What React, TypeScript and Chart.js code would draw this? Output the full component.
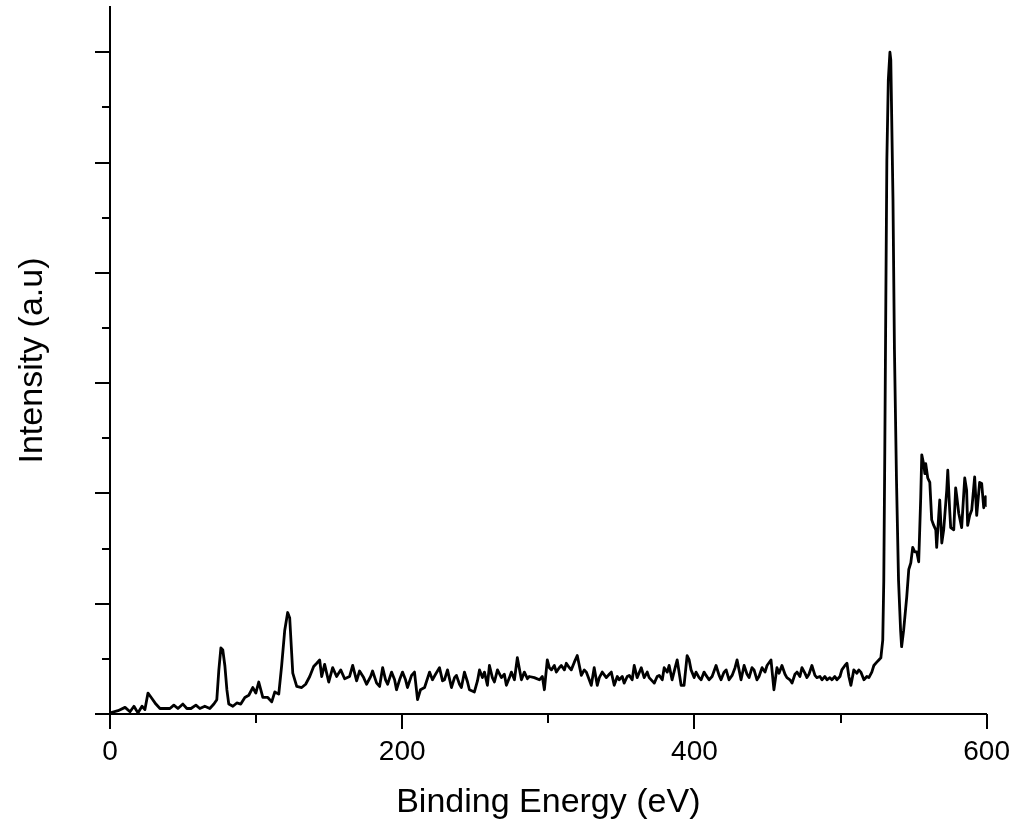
import React, { useEffect, useRef } from "react";
import { Chart, registerables } from "chart.js";

Chart.register(...registerables);

const energy = [
  0, 5.5, 10.3, 13.7, 16.4, 19.1, 21.9, 23.9, 26.0, 28.7,
  31.4, 34.2, 38.3, 41.0, 43.7, 46.5, 49.9, 52.6, 55.4, 58.8,
  61.5, 64.9, 68.3, 71.1, 73.1, 74.5, 75.9, 77.2, 78.6, 80.0,
  81.3, 84.1, 86.8, 89.5, 92.3, 95.0, 97.7, 99.8, 101.8, 104.6,
  108.0, 110.7, 112.8, 115.5, 117.5, 119.6, 121.6, 123.0, 125.1, 127.8,
  131.2, 133.9, 136.7, 139.4, 141.5, 143.5, 144.9, 146.9, 149.7, 152.4,
  155.1, 157.9, 160.6, 164.0, 166.1, 168.8, 170.8, 173.6, 175.6, 178.4,
  179.7, 182.5, 184.5, 186.6, 188.6, 190.0, 192.7, 194.8, 196.1, 198.2,
  200.2, 202.3, 203.6, 206.4, 208.4, 210.5, 212.5, 215.3, 218.7, 220.7,
  222.8, 225.5, 227.6, 228.9, 231.0, 233.7, 235.8, 237.1, 239.2, 240.5,
  242.6, 244.7, 246.0, 249.4, 251.5, 252.9, 254.9, 256.3, 258.3, 259.7,
  261.7, 263.1, 265.2, 267.9, 269.9, 271.3, 273.4, 274.7, 276.8, 278.8,
  281.6, 283.6, 285.7, 287.0, 290.4, 293.9, 295.9, 297.3, 299.3, 300.7,
  302.1, 304.1, 305.5, 307.5, 308.9, 311.0, 312.3, 314.4, 315.7, 317.8,
  319.8, 322.6, 324.6, 326.0, 328.0, 329.4, 331.4, 333.5, 334.9, 336.9,
  339.7, 341.7, 343.1, 345.1, 347.2, 348.5, 350.6, 351.9, 354.0, 355.4,
  357.4, 358.8, 360.8, 363.6, 365.6, 367.7, 369.0, 372.5, 374.5, 375.9,
  378.0, 379.3, 381.4, 382.7, 384.7, 386.8, 388.2, 390.9, 392.9, 395.0,
  396.4, 397.7, 399.8, 401.1, 403.2, 404.6, 406.6, 408.0, 410.0, 412.1,
  414.8, 416.9, 418.2, 420.3, 421.7, 423.7, 425.8, 427.8, 429.2, 431.9,
  434.0, 436.0, 437.4, 439.4, 440.8, 442.8, 444.2, 446.3, 448.3, 449.7,
  452.4, 454.4, 456.5, 457.9, 459.9, 462.0, 463.3, 465.4, 466.8, 468.8,
  470.2, 472.2, 473.6, 475.6, 477.0, 478.4, 480.4, 482.5, 483.8, 485.9,
  487.3, 489.3, 490.7, 492.7, 494.1, 496.1, 497.5, 499.6, 500.9, 503.0,
  504.4, 505.7, 507.1, 509.1, 511.2, 512.5, 513.9, 516.0, 518.0, 519.4,
  521.4, 522.8, 524.8, 526.2, 527.6, 528.9, 529.6, 530.3, 531.0, 531.7,
  532.7, 533.8, 534.4, 535.9, 536.9, 538.3, 539.7, 541.1, 541.8, 543.2,
  545.3, 546.7, 548.1, 549.4, 550.8, 552.2, 553.5, 554.2, 554.9, 555.6,
  557.0, 557.7, 558.3, 559.7, 561.1, 562.4, 563.8, 565.2, 565.8, 567.2,
  567.9, 569.3, 570.6, 571.3, 572.7, 573.4, 574.7, 575.4, 577.5, 578.8,
  579.5, 580.9, 582.9, 585.0, 586.3, 587.0, 588.4, 589.8, 591.8, 593.2,
  595.2, 596.6, 598.0, 599.3, 600.0,
];

const intensity = [
  0.01, 0.03, 0.06, 0.02, 0.07, 0.01, 0.07, 0.04, 0.19, 0.14,
  0.09, 0.05, 0.05, 0.05, 0.08, 0.05, 0.09, 0.05, 0.05, 0.08,
  0.05, 0.07, 0.05, 0.09, 0.13, 0.40, 0.60, 0.58, 0.44, 0.22,
  0.09, 0.07, 0.10, 0.09, 0.15, 0.17, 0.24, 0.19, 0.29, 0.15,
  0.15, 0.11, 0.20, 0.18, 0.44, 0.76, 0.92, 0.87, 0.37, 0.25,
  0.24, 0.27, 0.34, 0.43, 0.46, 0.49, 0.34, 0.45, 0.29, 0.42,
  0.34, 0.40, 0.32, 0.34, 0.44, 0.30, 0.39, 0.33, 0.27, 0.34,
  0.39, 0.28, 0.25, 0.42, 0.31, 0.27, 0.38, 0.31, 0.22, 0.31,
  0.38, 0.31, 0.24, 0.35, 0.38, 0.13, 0.22, 0.24, 0.38, 0.31,
  0.36, 0.42, 0.30, 0.31, 0.40, 0.24, 0.33, 0.35, 0.27, 0.24,
  0.38, 0.29, 0.22, 0.20, 0.30, 0.40, 0.33, 0.38, 0.26, 0.44,
  0.33, 0.29, 0.40, 0.33, 0.36, 0.26, 0.33, 0.38, 0.31, 0.51,
  0.31, 0.38, 0.32, 0.34, 0.33, 0.31, 0.34, 0.22, 0.49, 0.42,
  0.40, 0.44, 0.38, 0.42, 0.44, 0.40, 0.46, 0.42, 0.40, 0.47,
  0.53, 0.35, 0.40, 0.38, 0.31, 0.26, 0.42, 0.26, 0.33, 0.38,
  0.33, 0.36, 0.38, 0.26, 0.34, 0.31, 0.34, 0.28, 0.34, 0.35,
  0.31, 0.44, 0.33, 0.42, 0.33, 0.38, 0.33, 0.28, 0.34, 0.35,
  0.31, 0.42, 0.38, 0.44, 0.31, 0.42, 0.49, 0.26, 0.26, 0.53,
  0.49, 0.40, 0.33, 0.38, 0.33, 0.31, 0.38, 0.35, 0.31, 0.34,
  0.44, 0.35, 0.31, 0.38, 0.40, 0.31, 0.35, 0.42, 0.49, 0.31,
  0.44, 0.36, 0.33, 0.42, 0.40, 0.31, 0.34, 0.42, 0.38, 0.44,
  0.49, 0.22, 0.42, 0.37, 0.44, 0.36, 0.33, 0.31, 0.28, 0.36,
  0.38, 0.34, 0.42, 0.37, 0.33, 0.36, 0.44, 0.35, 0.33, 0.34,
  0.31, 0.34, 0.31, 0.33, 0.31, 0.34, 0.31, 0.34, 0.40, 0.44,
  0.46, 0.34, 0.26, 0.40, 0.37, 0.40, 0.38, 0.31, 0.34, 0.33,
  0.38, 0.44, 0.47, 0.49, 0.51, 0.67, 1.21, 2.39, 3.75, 5.02,
  5.75, 6.00, 5.93, 4.66, 3.30, 2.12, 1.21, 0.76, 0.61, 0.76,
  1.06, 1.31, 1.37, 1.51, 1.47, 1.47, 1.38, 1.67, 1.97, 2.35,
  2.26, 2.18, 2.27, 2.14, 2.10, 1.76, 1.71, 1.67, 1.51, 1.80,
  1.94, 1.55, 1.67, 1.79, 2.03, 2.21, 1.85, 1.69, 1.67, 2.05,
  1.98, 1.82, 1.69, 2.14, 2.03, 1.71, 1.80, 1.85, 2.15, 1.80,
  2.10, 2.09, 1.87, 1.97, 1.89,
];

const xMajorTicks = [0, 200, 400, 600];
const xMinorTicks = [100, 300, 500];
const yMajorTicks = [0, 1, 2, 3, 4, 5, 6];
const yMinorTicks = [0.5, 1.5, 2.5, 3.5, 4.5, 5.5];

const xTitle = "Binding Energy (eV)";
const yTitle = "Intensity (a.u)";
const FONT = "'Liberation Sans', Arial, sans-serif";

const tickPlugin = {
  id: "customTicks",
  afterDraw(chart: any) {
    const { ctx, scales } = chart;
    const x = scales.x;
    const y = scales.y;
    ctx.save();
    ctx.strokeStyle = "#000";
    ctx.lineWidth = 2;
    const axisY = x.top;
    const axisX = y.right;
    const drawX = (v: number, len: number) => {
      const px = Math.round(x.getPixelForValue(v));
      ctx.beginPath();
      ctx.moveTo(px, axisY);
      ctx.lineTo(px, axisY + len);
      ctx.stroke();
    };
    const drawY = (v: number, len: number) => {
      const py = Math.round(y.getPixelForValue(v));
      ctx.beginPath();
      ctx.moveTo(axisX, py);
      ctx.lineTo(axisX - len, py);
      ctx.stroke();
    };
    xMajorTicks.forEach((v) => drawX(v, 15));
    xMinorTicks.forEach((v) => drawX(v, 9));
    yMajorTicks.forEach((v) => drawY(v, 15));
    yMinorTicks.forEach((v) => drawY(v, 8));
    ctx.restore();
  },
};

export default function App() {
  const ref = useRef<HTMLCanvasElement | null>(null);
  useEffect(() => {
    if (!ref.current) return;
    const points = energy.map((e, i) => ({ x: e, y: intensity[i] }));
    const chart = new Chart(ref.current, {
      type: "line",
      data: {
        datasets: [
          {
            data: points,
            borderColor: "#000",
            borderWidth: 2.8,
            borderJoinStyle: "round",
            borderCapStyle: "round",
            pointRadius: 0,
            tension: 0,
            fill: false,
          },
        ],
      },
      options: {
        animation: false,
        responsive: false,
        maintainAspectRatio: false,
        layout: { padding: { top: 7, right: 28, left: 0, bottom: 0 } },
        plugins: { legend: { display: false }, tooltip: { enabled: false } },
        scales: {
          x: {
            type: "linear",
            min: 0,
            max: 600,
            afterFit: (s: any) => {
              s.height = 115;
            },
            ticks: {
              stepSize: 100,
              autoSkip: false,
              maxRotation: 0,
              padding: 6,
              color: "#000",
              font: { family: FONT, size: 28 },
              callback: (v: any) => (Number(v) % 200 === 0 ? String(v) : ""),
            },
            grid: {
              display: true,
              drawOnChartArea: false,
              tickLength: 15,
              tickColor: "rgba(0,0,0,0)",
            },
            border: { display: true, color: "#000", width: 2 },
            title: {
              display: true,
              text: xTitle,
              color: "#000",
              font: { family: FONT, size: 34 },
              padding: { top: 0, bottom: 6 },
            },
          },
          y: {
            type: "linear",
            min: 0,
            max: 6.41,
            afterFit: (s: any) => {
              s.width = 110;
            },
            ticks: { display: false, stepSize: 0.5 },
            grid: {
              display: true,
              drawOnChartArea: false,
              tickLength: 15,
              tickColor: "rgba(0,0,0,0)",
            },
            border: { display: true, color: "#000", width: 2 },
            title: {
              display: true,
              text: yTitle,
              color: "#000",
              font: { family: FONT, size: 34 },
              padding: { top: 12, bottom: 0 },
            },
          },
        },
      },
      plugins: [tickPlugin],
    });
    return () => chart.destroy();
  }, []);

  return (
    <div
      style={{
        position: "fixed",
        left: 0,
        top: 0,
        width: 1016,
        height: 829,
        background: "#fff",
      }}
    >
      <canvas ref={ref} width={1016} height={829} style={{ display: "block" }} />
    </div>
  );
}
